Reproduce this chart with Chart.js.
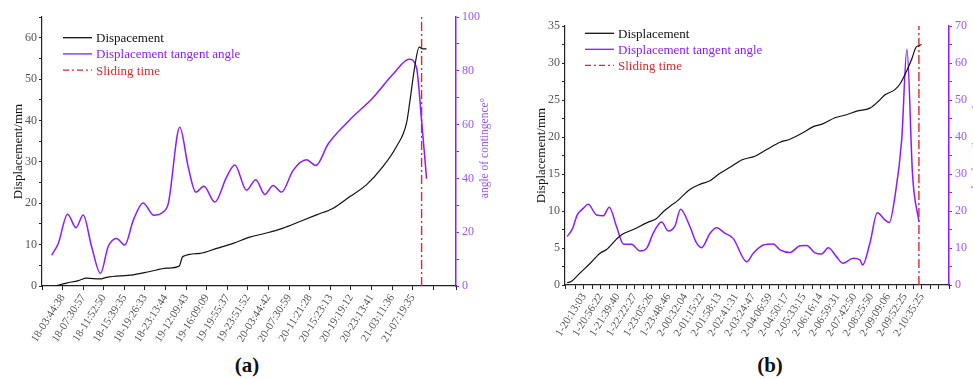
<!DOCTYPE html>
<html>
<head>
<meta charset="utf-8">
<script src="https://cdn.jsdelivr.net/npm/chart.js@4.4.0/dist/chart.umd.min.js"></script>
<style>
  html, body { margin: 0; padding: 0; width: 973px; height: 379px; overflow: hidden; background: #fff; }
  .wrap { position: absolute; top: 0; width: 500px; height: 350px; }
  .cap { position: absolute; top: 353px; width: 60px; line-height: 26px; text-align: center;
         font: bold 21px 'Liberation Serif', serif; color: #111; }
</style>
</head>
<body>
<div class="wrap" style="left:0"><canvas id="chartA" width="500" height="350"></canvas></div>
<div class="wrap" style="left:490px"><canvas id="chartB" width="500" height="350"></canvas></div>
<div class="cap" style="left:217px">(a)</div>
<div class="cap" style="left:740px">(b)</div>
<script>
Chart.defaults.font.family = "'Liberation Serif', 'Times New Roman', serif";
Chart.defaults.color = '#555';

// x values are in label units: the i-th time label sits at x = i

// (a)
const labelsA = ['18-03:44:38', '18-07:30:57', '18-11:52:50', '18-15:39:35', '18-19:26:33', '18-23:13:44',
  '19-12:09:43', '19-16:09:09', '19-19:55:37', '19-23:51:52', '20-03:44:42', '20-07:30:59',
  '20-11:21:28', '20-15:23:13', '20-19:19:12', '20-23:13:41', '21-03:11:36', '21-07:19:35'];
const dispAX = [-0.37, 0.19, 0.76, 1.17, 1.81, 2.14, 3.43, 4.24, 5.05, 5.66, 5.83, 6.67, 7.48, 8.28, 9.09,
  9.90, 10.71, 11.52, 12.33, 13.14, 13.95, 14.76, 15.56, 16.21, 16.70, 16.86, 17.10, 17.31, 17.48, 17.67];
const dispAY = [0, 0.7, 1.3, 1.9, 1.7, 2.1, 2.7, 3.5, 4.3, 4.8, 7.1, 7.9, 9.1, 10.3, 11.8,
  12.8, 14.0, 15.6, 17.2, 18.8, 21.6, 24.5, 28.9, 33.7, 39.4, 44.6, 53.1, 57.7, 57.3, 57.3];
const angleAX = [-0.53, -0.21, 0.24, 0.65, 1.00, 1.41, 1.84, 2.21, 2.62, 3.02, 3.43, 3.91, 4.43, 4.88, 5.13,
  5.69, 6.10, 6.47, 6.86, 7.39, 7.96, 8.36, 8.93, 9.38, 9.82, 10.22, 10.63, 11.19, 11.84, 12.30,
  12.89, 13.95, 15.08, 16.05, 16.83, 17.18, 17.43, 17.67];
const angleAY = [11.5, 15.8, 26.7, 21.7, 26.4, 14.6, 4.7, 14.6, 17.7, 15.2, 24.4, 30.9, 26.3, 27.5, 30.6,
  59.0, 44.2, 34.9, 37.1, 31.2, 40.5, 45.0, 35.6, 39.5, 34.0, 37.4, 34.9, 43.0, 46.9, 44.8,
  52.8, 61.8, 70.1, 78.8, 84.3, 81.2, 61.5, 39.9];
const slideA = 17.43;

// (b)
const labelsB = ['1-20:13:03', '1-20:56:22', '1-21:39:40', '1-22:22:27', '1-23:05:26', '1-23:48:46',
  '2-00:32:04', '2-01:15:22', '2-01:58:13', '2-02:41:31', '2-03:24:47', '2-04:06:59', '2-04:50:17',
  '2-05:33:15', '2-06:16:14', '2-06:59:31', '2-07:42:50', '2-08:25:50', '2-09:09:06', '2-09:52:25', '2-10:35:25'];
const dispBX = [-0.99, -0.73, -0.24, 0.36, 0.95, 1.34, 1.93, 2.23, 2.92, 3.71, 4.30, 4.69, 5.19, 5.49, 6.27,
  6.86, 7.46, 8.05, 8.64, 9.33, 10.12, 10.81, 11.60, 12.19, 12.98, 13.57, 14.16, 14.85, 15.54, 16.14,
  16.92, 17.41, 17.81, 18.40, 18.74, 19.09, 19.39, 19.64, 19.78, 19.98];
const dispBY = [0.3, 0.5, 1.6, 2.9, 4.3, 4.8, 6.2, 6.8, 7.5, 8.4, 9.0, 9.9, 10.8, 11.3, 12.9,
  13.6, 14.1, 15.1, 15.9, 16.9, 17.4, 18.3, 19.3, 19.7, 20.6, 21.4, 21.8, 22.6, 23.0, 23.5,
  23.9, 24.8, 25.7, 26.4, 27.3, 28.9, 30.5, 32.1, 32.3, 32.5];
const angleBX = [-0.99, -0.67, -0.40, -0.04, 0.25, 0.75, 1.14, 1.50, 1.93, 2.33, 2.82, 3.31, 3.71, 4.10, 4.60,
  4.99, 5.38, 5.72, 6.27, 6.67, 6.96, 7.46, 7.85, 8.34, 8.83, 9.63, 10.02, 10.61, 11.20, 11.60,
  12.19, 12.78, 13.18, 13.67, 14.07, 14.46, 14.95, 15.31, 15.93, 16.33, 16.49, 16.92, 17.36, 17.81, 18.07,
  18.40, 18.80, 19.11, 19.45, 19.82];
const angleBY = [13.1, 15.3, 18.9, 20.7, 21.8, 18.9, 18.7, 21.0, 15.8, 11.1, 11.0, 9.2, 9.9, 14.0, 17.0,
  14.6, 15.9, 20.5, 15.8, 11.3, 10.1, 14.0, 15.5, 14.0, 12.6, 6.3, 8.6, 10.8, 11.1, 9.5,
  8.8, 10.6, 10.7, 8.7, 8.4, 10.1, 7.6, 5.9, 7.2, 6.8, 5.4, 11.3, 19.5, 17.6, 16.9,
  23.9, 39.2, 63.7, 29.3, 17.1];
const slideB = 19.82;

const BLACK = '#111';
const PURPLE = '#8a1cff';
const PURPLE_TXT = '#9a55ff';
const RED = '#e3262b';

const pts = (xs, ys) => xs.map((x, i) => ({ x: x, y: ys[i] }));

// legend drawn inside the plot + right axis title reading upwards
const insideLegend = {
  id: 'insideLegend',
  afterDraw(chart, args, o) {
    const ctx = chart.ctx;
    ctx.save();
    ctx.font = "13px 'Liberation Serif'";
    ctx.textBaseline = 'middle';
    chart.data.datasets.forEach((ds, i) => {
      const y = o.y + i * o.gap;
      ctx.strokeStyle = ds.borderColor;
      ctx.lineWidth = 1.3;
      ctx.setLineDash(ds.borderDash ? [6, 3, 2, 3] : []);
      ctx.beginPath();
      ctx.moveTo(o.x, y);
      ctx.lineTo(o.x + 29, y);
      ctx.stroke();
      ctx.setLineDash([]);
      ctx.fillStyle = ds.borderColor;
      ctx.fillText(ds.label, o.x + 33, y + 1);
    });
    ctx.translate(o.titleX, o.titleY);
    ctx.rotate(-Math.PI / 2);
    ctx.textAlign = 'center';
    ctx.fillStyle = PURPLE_TXT;
    ctx.font = "11.5px 'Liberation Serif'";
    ctx.fillText(o.title, 0, 0);
    ctx.restore();
  }
};

function makeChart(id, cfg) {
  return new Chart(document.getElementById(id), {
    type: 'line',
    data: {
      datasets: [
        { label: cfg.dispLabel, data: pts(cfg.dx, cfg.dy), borderColor: BLACK, borderWidth: 1.2,
          yAxisID: 'y', cubicInterpolationMode: 'monotone', pointRadius: 0 },
        { label: 'Displacement tangent angle', data: pts(cfg.ax, cfg.ay), borderColor: PURPLE, borderWidth: 1.5,
          yAxisID: 'y1', cubicInterpolationMode: 'monotone', pointRadius: 0 },
        { label: 'Sliding time', data: [{ x: cfg.slide, y: 0 }, { x: cfg.slide, y: cfg.yMax }],
          borderColor: RED, borderWidth: 1.4, borderDash: [9, 3, 2, 3], yAxisID: 'y', pointRadius: 0 }
      ]
    },
    options: {
      responsive: false,
      animation: false,
      layout: { padding: { top: cfg.top, left: 0, right: 0, bottom: 0 } },
      plugins: {
        legend: { display: false },
        tooltip: { enabled: false },
        insideLegend: cfg.legend
      },
      scales: {
        x: {
          type: 'linear', min: cfg.xMin, max: cfg.xMax,
          grid: { drawOnChartArea: false, tickLength: 4, tickColor: '#222' },
          border: { color: '#222', width: 1.2 },
          ticks: {
            stepSize: cfg.xStep, autoSkip: false, minRotation: 58, maxRotation: 58, padding: 2,
            color: '#555', font: { size: 11 },
            callback: v => (Number.isInteger(v) && cfg.labels[v]) ? cfg.labels[v] : ''
          },
          afterFit: s => { s.height = 350 - cfg.bottom; }
        },
        y: {
          position: 'left', min: 0, max: cfg.yMax,
          grid: { drawOnChartArea: false, tickLength: 3, tickColor: '#222' },
          border: { color: '#222', width: 1.2 },
          ticks: { stepSize: cfg.yStep, padding: 2, color: '#555', font: { size: 12 },
            callback: v => (v % cfg.yLab === 0) ? v : '' },
          title: { display: true, text: 'Displacement/mm', color: '#111', font: { size: 13 },
            padding: { top: cfg.titlePad, bottom: 0 } },
          afterFit: s => { s.width = cfg.left; }
        },
        y1: {
          position: 'right', min: 0, max: cfg.y1Max,
          grid: { drawOnChartArea: false, tickLength: 3, tickColor: PURPLE },
          border: { color: PURPLE, width: 1.5 },
          ticks: { stepSize: cfg.y1Step, padding: 3, color: PURPLE_TXT, font: { size: 12 },
            callback: v => (v % cfg.y1Lab === 0) ? v : '' },
          afterFit: s => { s.width = 500 - cfg.right; }
        }
      }
    },
    plugins: [insideLegend]
  });
}

makeChart('chartA', {
  labels: labelsA, dispLabel: 'Dispacement',
  dx: dispAX, dy: dispAY, ax: angleAX, ay: angleAY, slide: slideA,
  xMin: -1, xMax: 19.1, xStep: 1,
  yMax: 65, yStep: 5, yLab: 10, y1Max: 100, y1Step: 10, y1Lab: 20,
  top: 17, bottom: 286, left: 42, right: 456, titlePad: 11,
  legend: { x: 63, y: 37.7, gap: 16.2, titleX: 485, titleY: 148, title: 'angle of contingence°' }
});

makeChart('chartB', {
  labels: labelsB, dispLabel: 'Displacement',
  dx: dispBX, dy: dispBY, ax: angleBX, ay: angleBY, slide: slideB,
  xMin: -1.12, xMax: 21.6, xStep: 0.5,
  yMax: 35, yStep: 2.5, yLab: 5, y1Max: 70, y1Step: 5, y1Lab: 10,
  top: 26, bottom: 285, left: 75, right: 459, titlePad: 44,
  legend: { x: 95, y: 33.3, gap: 16, titleX: 487, titleY: 155, title: 'angle of contingence°' }
});
</script>
</body>
</html>
